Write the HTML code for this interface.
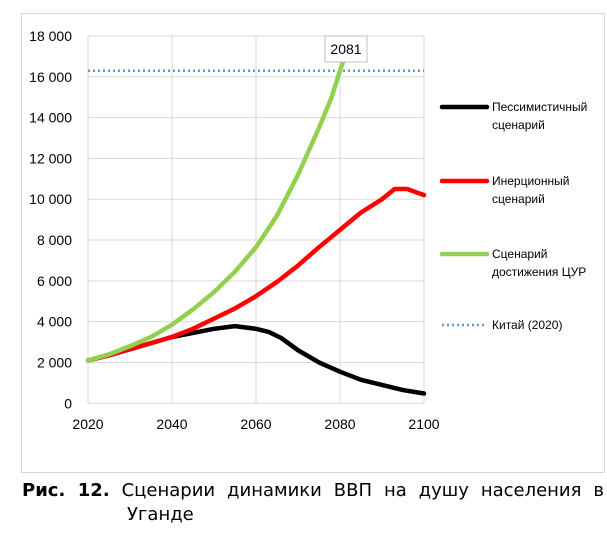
<!DOCTYPE html>
<html><head><meta charset="utf-8"><style>
body{margin:0;width:607px;height:533px;background:#fff;font-family:"Liberation Sans","DejaVu Sans",sans-serif;position:relative;overflow:hidden}
#box{position:absolute;left:21px;top:13px;width:582px;height:458px;border:1px solid #d9d9d9}
svg{position:absolute;left:0;top:0}
.cap{position:absolute;left:22px;width:582px;font-size:18px;color:#000;font-family:"DejaVu Sans","Liberation Sans",sans-serif}
</style></head><body>
<div id="box"></div>
<svg id="chart" width="607" height="533"></svg>
<div class="cap" style="top:480px;text-align:justify;text-align-last:justify;white-space:nowrap"><b>Рис. 12.</b> Сценарии динамики ВВП на душу населения в</div>
<div class="cap" style="top:504px;left:127px">Уганде</div>
<script>
const years=[2020,2025,2030,2035,2040,2045,2050,2055,2060,2063,2066,2070,2075,2080,2085,2090,2095,2100];
const pessimistic=[2100,2350,2650,2950,3250,3450,3650,3780,3650,3500,3200,2600,2000,1550,1150,900,650,480];
const redYears=[2020,2025,2030,2035,2040,2045,2050,2055,2060,2065,2070,2075,2080,2085,2090,2093,2096,2100];
const inertial=[2100,2350,2650,2950,3250,3650,4150,4650,5250,5950,6750,7650,8500,9350,10000,10500,10500,10200];
const greenYears=[2020,2025,2030,2035,2040,2045,2050,2055,2060,2065,2070,2075,2078,2080,2081];
const sdg=[2100,2400,2800,3250,3850,4600,5450,6450,7650,9200,11200,13500,15000,16300,16900];
const chinaLevel=16300;
const yTicks=[0,2000,4000,6000,8000,10000,12000,14000,16000,18000];
const yTickLabels=["0","2 000","4 000","6 000","8 000","10 000","12 000","14 000","16 000","18 000"];
const xTicks=[2020,2040,2060,2080,2100];
const legendLabels=[["Пессимистичный","сценарий"],["Инерционный","сценарий"],["Сценарий","достижения ЦУР"],["Китай (2020)"]];
const NS="http://www.w3.org/2000/svg";
const svg=document.getElementById('chart');
const X=v=>88+(v-2020)*(336/80);
const Y=v=>403.3-v*(367.3/18000);
function mk(t,a){const e=document.createElementNS(NS,t);for(const k in a)e.setAttribute(k,a[k]);svg.appendChild(e);return e;}
yTicks.forEach((v,i)=>{
 const g=mk('line',{x1:88,x2:424,y1:Y(v),y2:Y(v),stroke:'#d9d9d9','stroke-width':1});
 
 
 const t=mk('text',{x:72,y:Y(v)+5,'text-anchor':'end','font-size':14,fill:'#000'});
 t.textContent=yTickLabels[i];
 
 
});
xTicks.forEach(v=>{
 const g=mk('line',{x1:X(v),x2:X(v),y1:Y(18000),y2:Y(0),stroke:'#d9d9d9','stroke-width':1});
 
 
 const t=mk('text',{x:X(v),y:429,'text-anchor':'middle','font-size':14,fill:'#000'});
 t.textContent=v;
 
 
});
const cl=mk('line',{x1:X(2020),x2:X(2100),y1:Y(chinaLevel),y2:Y(chinaLevel),stroke:'#5b9bd5','stroke-width':2.5,'stroke-dasharray':'2 3'});


function series(xs,ys,color,name){
 const p=mk('polyline',{points:xs.map((x,i)=>X(x)+','+Y(ys[i])).join(' '),fill:'none',stroke:color,'stroke-width':4.5,'stroke-linejoin':'round','stroke-linecap':'round'});
 
 
}
series(years,pessimistic,'#000','pessimistic-line');
series(redYears,inertial,'#ff0000','inertial-line');
series(greenYears,sdg,'#92d050','sdg-line');
const lb=mk('rect',{x:325,y:36,width:42,height:26,fill:'#fff',stroke:'#bfbfbf'});


const lt=mk('text',{x:346,y:54,'text-anchor':'middle','font-size':14});
lt.textContent='2081';


const legColors=['#000','#ff0000','#92d050','#5b9bd5'];
const legY=[107,181,254,325];
legendLabels.forEach((lines,i)=>{
 const l=mk('line',{x1:442,x2:487,y1:legY[i],y2:legY[i],stroke:legColors[i],'stroke-width':i==3?2.5:4.5,'stroke-linecap':i==3?'butt':'round','stroke-dasharray':i==3?'2 3':'none'});
 
 
 lines.forEach((s,j)=>{
  const t=mk('text',{x:492,y:legY[i]+4+j*18,'font-size':12,fill:'#000'});
  t.textContent=s;
  
  
 });
});
</script>
</body></html>
